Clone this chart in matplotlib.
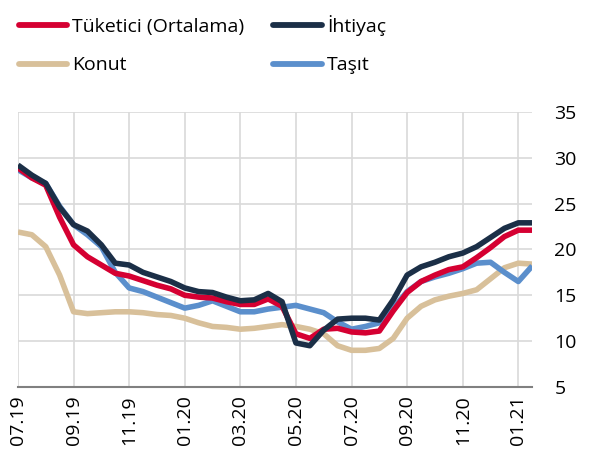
import matplotlib
matplotlib.use("Agg")
import matplotlib.pyplot as plt
import numpy as np

plt.rcParams['font.family'] = ['Open Sans', 'DejaVu Sans']

# half-month steps starting 07.19
tuketici = [28.9, 27.8, 27.0, 23.5, 20.5, 19.2, 18.3, 17.4, 17.1, 16.6,
            16.1, 15.7, 15.0, 14.8, 14.7, 14.3, 14.0, 14.0, 14.6, 13.8,
            10.8, 10.3, 11.3, 11.4, 11.0, 10.9, 11.1, 13.3, 15.3, 16.5,
            17.2, 17.8, 18.1, 19.1, 20.2, 21.4, 22.1, 22.1]
ihtiyac = [29.2, 28.1, 27.2, 24.6, 22.7, 22.0, 20.5, 18.5, 18.3, 17.5,
           17.0, 16.5, 15.8, 15.4, 15.3, 14.8, 14.4, 14.5, 15.2, 14.3,
           9.8, 9.5, 11.2, 12.4, 12.5, 12.5, 12.3, 14.5, 17.2, 18.1,
           18.6, 19.2, 19.6, 20.3, 21.3, 22.3, 22.9, 22.9]
konut = [21.9, 21.6, 20.3, 17.2, 13.2, 13.0, 13.1, 13.2, 13.2, 13.1,
         12.9, 12.8, 12.5, 12.0, 11.6, 11.5, 11.3, 11.4, 11.6, 11.8,
         11.6, 11.3, 10.8, 9.5, 9.0, 9.0, 9.2, 10.3, 12.5, 13.8,
         14.5, 14.9, 15.2, 15.6, 16.8, 18.0, 18.5, 18.4]
tasit = [28.7, 27.8, 27.2, 24.7, 22.7, 21.6, 20.3, 17.5, 15.8, 15.4,
         14.8, 14.2, 13.6, 13.9, 14.4, 13.8, 13.2, 13.2, 13.5, 13.7,
         13.9, 13.5, 13.1, 12.1, 11.3, 11.6, 12.0, 13.6, 15.4, 16.5,
         17.0, 17.4, 17.9, 18.5, 18.6, 17.5, 16.5, 18.2]

tick_labels = ["07.19", "09.19", "11.19", "01.20", "03.20",
               "05.20", "07.20", "09.20", "11.20", "01.21"]

x = np.arange(len(tuketici)) / 2.0

fig = plt.figure(figsize=(5.98, 4.76), dpi=100)
ax = fig.add_axes([0.030, 0.187, 0.860, 0.578])

series = [
    ("Tüketici (Ortalama)", tuketici, "#D50032"),
    ("İhtiyaç", ihtiyac, "#1B2F47"),
    ("Konut", konut, "#D8C09A"),
    ("Taşıt", tasit, "#5B8FCC"),
]
order = [2, 3, 0, 1]
lines = {}
for i in order:
    name, vals, col = series[i]
    ln, = ax.plot(x, vals, color=col, lw=4.0, solid_capstyle="butt",
                  solid_joinstyle="round", label=name)
    lines[i] = ln

ax.set_xlim(0, x[-1])
ax.set_ylim(5, 35)
ax.set_yticks(range(5, 36, 5))
ax.set_xticks(np.arange(len(tick_labels)) * 2)
ax.set_xticklabels(tick_labels, rotation=90, fontsize=14)
ax.yaxis.tick_right()
ax.tick_params(axis='y', length=0, labelsize=14, pad=16)
ax.tick_params(axis='x', length=0, pad=6)
ax.grid(True, color="#D9D9D9", lw=1.2)
ax.set_axisbelow(True)
for s in ["top", "right", "left"]:
    ax.spines[s].set_visible(False)
ax.spines["bottom"].set_color("#808080")
ax.spines["bottom"].set_linewidth(1.5)

handles = [lines[0], lines[2], lines[1], lines[3]]
labels = [series[0][0], series[2][0], series[1][0], series[3][0]]
leg = fig.legend(handles, labels, loc="upper left", bbox_to_anchor=(0.002, 1.005),
                 ncol=2, frameon=False, fontsize=14, handlelength=2.5,
                 handletextpad=0.25, columnspacing=1.5, labelspacing=1.05)
for h in leg.legend_handles:
    h.set_solid_capstyle("round")
    h.set_linewidth(4.2)

fig.savefig("out.png", dpi=100)
